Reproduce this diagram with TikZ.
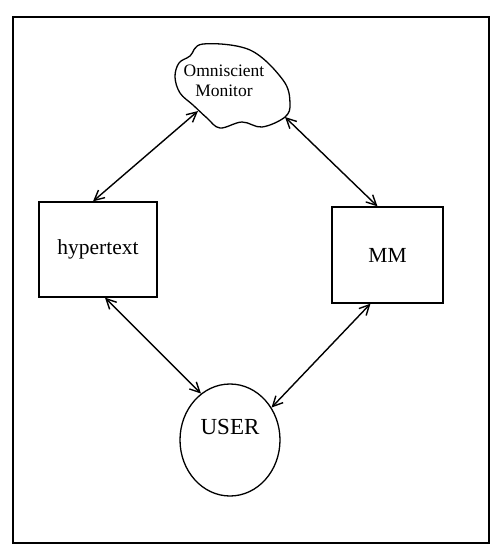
\documentclass[tikz,border=0pt]{standalone}
\usepackage{fontspec}
\setmainfont{Liberation Serif}
\usetikzlibrary{arrows.meta,shapes.geometric}
\begin{document}
\begin{tikzpicture}[x=1pt, y=-1pt,
        box/.style={draw, rectangle, line width=1.3pt, align=center, font=\fontsize{21.5}{23}\selectfont},
        arrow/.style={{Straight Barb[length=10pt,width=10pt]}-{Straight Barb[length=10pt,width=10pt]}, line width=1.4pt}
    ]
        % Frame
        \useasboundingbox (0,0) rectangle (498,549);
        \draw[line width=2.2pt] (13,17) rectangle (489,543);

        % Monitor
        \draw[line width=1.3pt] plot[smooth cycle, tension=0.6] coordinates {
            (203,44) (250,50) (283,80) (290,103) (285,117) (262,127) (242,122)
            (220,128) (207,118) (193,105) (180,93) (175,77) (179,63) (190,56)};
        \node[align=center, font=\fontsize{17.5}{19.5}\selectfont] (mon) at (224,81) {Omniscient\\Monitor};
        \coordinate (monL) at (198,111);
        \coordinate (monR) at (285,117);

        % Boxes
        \node[box, minimum width=118pt, minimum height=95pt] (hyp) at (98,249.5) {hypertext};
        \node[box, minimum width=111pt, minimum height=96pt] (mm) at (387.5,255) {MM};
        \node[draw, ellipse, line width=1.3pt, minimum width=100pt, minimum height=112pt, text depth=26pt, font=\fontsize{23}{24}\selectfont] (user) at (230,440) {USER};

        % Paths
        \draw[arrow] (monL) -- ([xshift=-5pt]hyp.north);
        \draw[arrow] (monR) -- ([xshift=-10pt]mm.north);
        \draw[arrow] ([xshift=7pt]hyp.south) -- (user.122);
        \draw[arrow] ([xshift=-17pt]mm.south) -- (user.38);

    \end{tikzpicture}
\end{document}
